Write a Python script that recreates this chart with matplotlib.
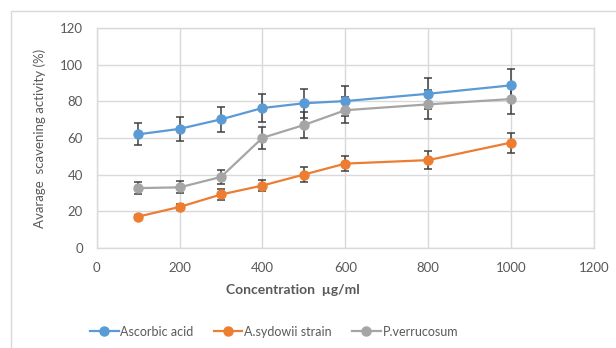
import matplotlib
matplotlib.use("Agg")
import matplotlib.pyplot as plt
from matplotlib.lines import Line2D

plt.rcParams['font.family'] = ['Lato', 'DejaVu Sans']

conc = [100, 200, 300, 400, 500, 600, 800, 1000]
ascorbic = [62, 65, 70.2, 76.4, 79, 80.2, 84.2, 88.8]
ascorbic_err = [6, 6.5, 7, 7.4, 8, 8, 8.5, 8.7]
sydowii = [17, 22.3, 29.1, 34, 40, 46, 47.9, 57.5]
sydowii_err = [1, 1.6, 3, 3.2, 4, 4.2, 4.9, 5.5]
verruc = [32.6, 33, 38.7, 60.1, 67.1, 75.2, 78.4, 81.3]
verruc_err = [3.3, 3.3, 3.7, 5.9, 7, 7.2, 8, 8.4]
labels = ['Ascorbic acid', 'A.sydowii strain', 'P.verrucosum']
colors = ['#5B9BD5', '#ED7D31', '#A5A5A5']
xticks = [0, 200, 400, 600, 800, 1000, 1200]
yticks = [0, 20, 40, 60, 80, 100, 120]

fig = plt.figure(figsize=(6.16, 3.48), dpi=100)
ax = fig.add_axes([96.7/616, 1-247.7/348, (594-96.7)/616, (247.7-28.3)/348])

series = [(ascorbic, ascorbic_err), (sydowii, sydowii_err), (verruc, verruc_err)]
for (vals, err), lab, col in zip(series, labels, colors):
    ax.errorbar(conc, vals, yerr=err, fmt='none', ecolor='#404040',
                elinewidth=1.1, capsize=2.6, capthick=1.1, zorder=2)
    ax.plot(conc, vals, color=col, lw=1.6, marker='o', markersize=6.5,
            label=lab, zorder=3)

ax.set_xlim(0, 1200)
ax.set_ylim(0, 120)
ax.set_xticks(xticks)
ax.set_yticks(yticks)
ax.grid(True, color='#d9d9d9', lw=1)
ax.set_axisbelow(True)
for s in ax.spines.values():
    s.set_color('#d9d9d9')
    s.set_linewidth(1)
ax.tick_params(length=0, labelsize=9.5, labelcolor='#595959', pad=10)

ax.set_ylabel('Avarage  scavening activity (%)', fontsize=9.5, color='#595959', labelpad=10)
fig.text(293/616, 1-290/348, 'Concentration  µg/ml', ha='center', va='center',
         fontsize=10, fontweight='bold', color='#595959')

handles = [Line2D([], [], color=c, lw=1.6, marker='o', markersize=6.5) for c in colors]
fig.legend(handles, labels, loc='center', bbox_to_anchor=(274/616, 1-331.7/348),
           ncol=3, frameon=False, fontsize=9, handlelength=2.3, handletextpad=0.15,
           columnspacing=1.6, labelcolor='#595959')

# chart border
fig.add_artist(Line2D([10.5/616, 10.5/616, 1.0], [0.0, 1-10.5/348, 1-10.5/348],
                      transform=fig.transFigure, color='#d9d9d9', lw=1))

fig.savefig('out.png', dpi=100)
